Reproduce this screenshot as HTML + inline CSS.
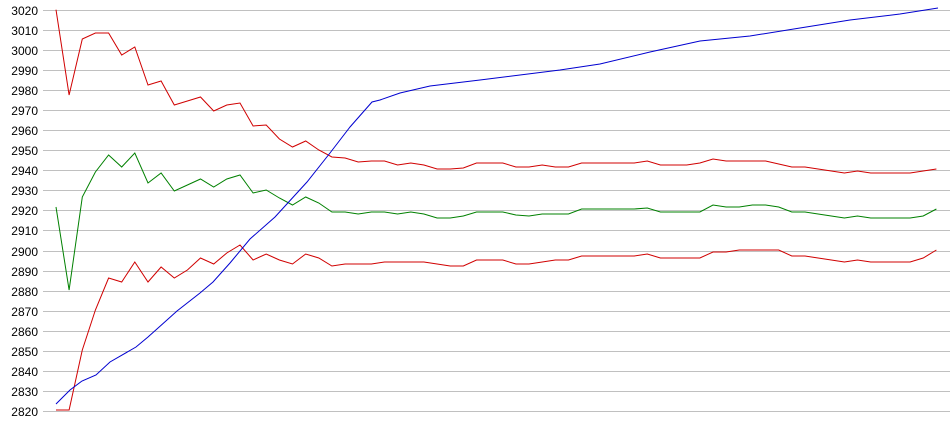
<!DOCTYPE html>
<html><head><style>
html,body{margin:0;padding:0;background:#fff;}
svg{display:block;}
text{font-family:"Liberation Sans",Arial,sans-serif;font-size:12px;fill:#000;}
</style></head><body>
<svg width="950" height="435" xmlns="http://www.w3.org/2000/svg">
<g stroke="#c0c0c0" stroke-width="1">
<line x1="43" x2="950" y1="10.5" y2="10.5"/>
<line x1="43" x2="950" y1="30.5" y2="30.5"/>
<line x1="43" x2="950" y1="50.5" y2="50.5"/>
<line x1="43" x2="950" y1="70.5" y2="70.5"/>
<line x1="43" x2="950" y1="90.5" y2="90.5"/>
<line x1="43" x2="950" y1="110.5" y2="110.5"/>
<line x1="43" x2="950" y1="130.5" y2="130.5"/>
<line x1="43" x2="950" y1="150.5" y2="150.5"/>
<line x1="43" x2="950" y1="170.5" y2="170.5"/>
<line x1="43" x2="950" y1="190.5" y2="190.5"/>
<line x1="43" x2="950" y1="210.5" y2="210.5"/>
<line x1="43" x2="950" y1="230.5" y2="230.5"/>
<line x1="43" x2="950" y1="251.5" y2="251.5"/>
<line x1="43" x2="950" y1="271.5" y2="271.5"/>
<line x1="43" x2="950" y1="291.5" y2="291.5"/>
<line x1="43" x2="950" y1="311.5" y2="311.5"/>
<line x1="43" x2="950" y1="331.5" y2="331.5"/>
<line x1="43" x2="950" y1="351.5" y2="351.5"/>
<line x1="43" x2="950" y1="371.5" y2="371.5"/>
<line x1="43" x2="950" y1="391.5" y2="391.5"/>
<line x1="43" x2="950" y1="411.5" y2="411.5"/>
</g>
<g text-anchor="end">
<text x="38" y="15">3020</text>
<text x="38" y="35">3010</text>
<text x="38" y="55">3000</text>
<text x="38" y="75">2990</text>
<text x="38" y="95">2980</text>
<text x="38" y="115">2970</text>
<text x="38" y="135">2960</text>
<text x="38" y="155">2950</text>
<text x="38" y="175">2940</text>
<text x="38" y="195">2930</text>
<text x="38" y="215">2920</text>
<text x="38" y="235">2910</text>
<text x="38" y="256">2900</text>
<text x="38" y="276">2890</text>
<text x="38" y="296">2880</text>
<text x="38" y="316">2870</text>
<text x="38" y="336">2860</text>
<text x="38" y="356">2850</text>
<text x="38" y="376">2840</text>
<text x="38" y="396">2830</text>
<text x="38" y="416">2820</text>
</g>
<g fill="none" stroke-width="1">
<polyline stroke="#d00000" points="56,9.7 69.1,95 82.3,39 95.4,33 108.6,33 121.7,55 134.8,47 148,85 161.1,81 174.3,105 187.4,101 200.5,97 213.7,111 226.8,105 240,103 253.1,126 266.2,125 279.4,139 292.5,147 305.7,141 318.8,150 331.9,157 345.1,158 358.2,162 371.4,161 384.5,161 397.6,165 410.8,163 423.9,165 437.1,169 450.2,169 463.3,168 476.5,163 489.6,163 502.8,163 515.9,167 529,167 542.2,165 555.3,167 568.5,167 581.6,163 594.7,163 607.9,163 621,163 634.2,163 647.3,161 660.4,165 673.6,165 686.7,165 699.9,163 713,159 726.1,161 739.3,161 752.4,161 765.6,161 778.7,164 791.8,167 805,167 818.1,169 831.3,171 844.4,173 857.5,171 870.7,173 883.8,173 897,173 910.1,173 923.2,171 936.4,169"/>
<polyline stroke="#008000" points="56,207 69.1,290 82.3,197 95.4,172 108.6,155 121.7,167 134.8,153 148,183 161.1,173 174.3,191 187.4,185 200.5,179 213.7,187 226.8,179 240,175 253.1,193 266.2,190 279.4,198 292.5,205 305.7,197 318.8,203 331.9,212 345.1,212 358.2,214 371.4,212 384.5,212 397.6,214 410.8,212 423.9,214 437.1,218 450.2,218 463.3,216 476.5,212 489.6,212 502.8,212 515.9,215 529,216 542.2,214 555.3,214 568.5,214 581.6,209 594.7,209 607.9,209 621,209 634.2,209 647.3,208 660.4,212 673.6,212 686.7,212 699.9,212 713,205 726.1,207 739.3,207 752.4,205 765.6,205 778.7,207 791.8,212 805,212 818.1,214 831.3,216 844.4,218 857.5,216 870.7,218 883.8,218 897,218 910.1,218 923.2,216 936.4,209"/>
<polyline stroke="#d00000" points="56,410 69.1,410 82.3,350 95.4,310 108.6,278 121.7,282 134.8,262 148,282 161.1,267 174.3,278 187.4,270 200.5,258 213.7,264 226.8,253 240,245 253.1,260 266.2,254 279.4,260 292.5,264 305.7,254 318.8,258 331.9,266 345.1,264 358.2,264 371.4,264 384.5,262 397.6,262 410.8,262 423.9,262 437.1,264 450.2,266 463.3,266 476.5,260 489.6,260 502.8,260 515.9,264 529,264 542.2,262 555.3,260 568.5,260 581.6,256 594.7,256 607.9,256 621,256 634.2,256 647.3,254 660.4,258 673.6,258 686.7,258 699.9,258 713,252 726.1,252 739.3,250 752.4,250 765.6,250 778.7,250 791.8,256 805,256 818.1,258 831.3,260 844.4,262 857.5,260 870.7,262 883.8,262 897,262 910.1,262 923.2,258 936.4,250"/>
<polyline stroke="#0000d0" points="56,404 70,390 82,381 96,375 110,362 136,347 148,337 167,320 177,311 200,293 213,282 230,263 250,239 275,217 307,182 330,153 350,127 372,102 380,100 400,93 430,86 480,80 520,75 560,70 600,64 650,52 700,41 750,36 800,28 850,20 900,14 938,8"/>
</g>
</svg>
</body></html>
